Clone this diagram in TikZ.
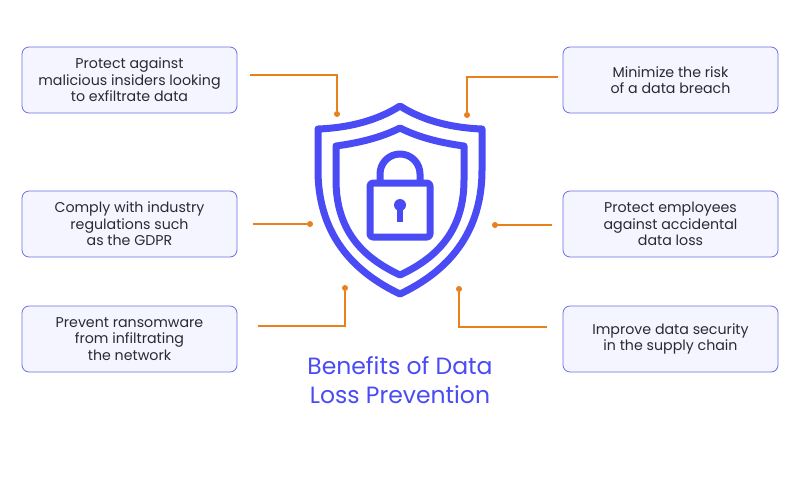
\documentclass[tikz,border=0pt]{standalone}
\usepackage{fontspec}
\setmainfont{Poppins}
\begin{document}
\begin{tikzpicture}[x=1pt,y=-1pt,
  box/.style={draw=boxb,fill=boxf,rounded corners=7pt,line width=0.8pt,minimum width=215pt,minimum height=66pt,align=center,font=\fontsize{14.2}{16.5}\selectfont,text=txt},
  conn/.style={draw=org,line width=1.1pt},
  dot/.style={circle,fill=org,inner sep=0pt,minimum size=6pt},
  sh/.style={draw=shc,line width=7pt,line join=round}]
\definecolor{boxb}{HTML}{6B6FE6}\definecolor{boxf}{HTML}{F4F5FE}
\definecolor{txt}{HTML}{2A2A35}\definecolor{org}{HTML}{E8801E}
\definecolor{shc}{HTML}{4B4BF5}
\useasboundingbox (0,0) rectangle (800,480);
\fill[white] (0,0) rectangle (800,480);
% boxes
\node[box] (b1) at (129.5,80) {Protect against\\malicious insiders looking\\to exfiltrate data};
\node[box] (b2) at (129.5,224) {Comply with industry\\regulations such\\as the GDPR};
\node[box] (b3) at (129.5,339) {Prevent ransomware\\from infiltrating\\the network};
\node[box] (b4) at (670.5,80) {Minimize the risk\\of a data breach};
\node[box] (b5) at (670.5,224) {Protect employees\\against accidental\\data loss};
\node[box] (b6) at (670.5,339) {Improve data security\\in the supply chain};
% shield
\draw[sh] (400,106) .. controls (375,122) and (345,128) .. (318,129) -- (318,170) .. controls (318,240) and (360,275) .. (400,294) .. controls (440,275) and (482,240) .. (482,170) -- (482,129) .. controls (455,128) and (425,122) .. (400,106) -- cycle;
\draw[sh] (400,128) .. controls (380,138) and (358,143) .. (336,146) -- (336,180) .. controls (336,235) and (368,260) .. (400,275) .. controls (432,260) and (464,235) .. (464,180) -- (464,146) .. controls (442,143) and (420,138) .. (400,128) -- cycle;
\draw[sh] (380,182) -- (380,174) arc[start angle=180,end angle=0,x radius=20,y radius=-20] -- (420,182);
\draw[sh,rounded corners=3pt] (370,183) rectangle (430,237);
\fill[shc] (400,205) circle (6);
\fill[shc] (397,205) rectangle (403,222);
% dots
\node[dot] (d1) at (337,114) {};
\node[dot] (d4) at (467,115) {};
\node[dot] (d2) at (310,224) {};
\node[dot] (d5) at (495,225) {};
\node[dot] (d3) at (345,288) {};
\node[dot] (d6) at (459,289) {};
\coordinate (c1) at (250,75);\coordinate (c4) at (558,77);
\coordinate (c2) at (253,224);\coordinate (c5) at (552,225);
\coordinate (c3) at (258,326);\coordinate (c6) at (547,327);
\draw[conn] (c1) -| (d1);
\draw[conn] (c4) -| (d4);
\draw[conn] (c2) -- (d2);
\draw[conn] (c5) -- (d5);
\draw[conn] (c3) -| (d3);
\draw[conn] (c6) -| (d6);
\node[text=shc,align=center,font=\fontsize{23.5}{29}\selectfont] (t) at (400,380) {Benefits of Data\\Loss Prevention};
\end{tikzpicture}
\end{document}
